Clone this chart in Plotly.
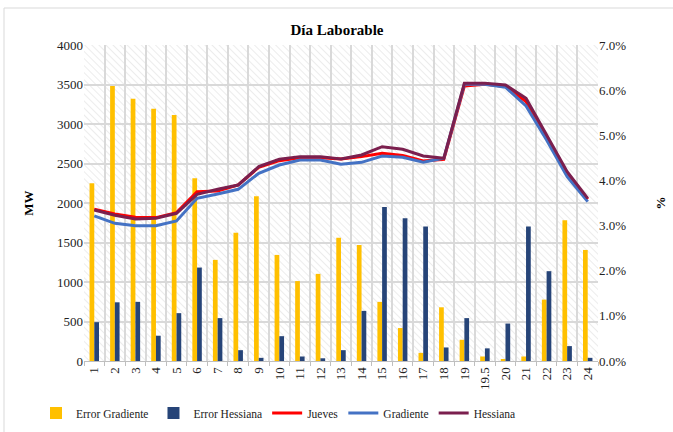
import base64
import plotly.graph_objects as go

hours = ["1", "2", "3", "4", "5", "6", "7", "8", "9", "10", "11", "12", "13",
         "14", "15", "16", "17", "18", "19", "19.5", "20", "21", "22", "23", "24"]

# Error bars (%), right axis
error_gradiente = [3.94, 6.09, 5.81, 5.59, 5.45, 4.05, 2.24, 2.84, 3.65, 2.35, 1.77, 1.93, 2.73,
                   2.57, 1.31, 0.73, 0.18, 1.19, 0.47, 0.10, 0.03, 0.10, 1.36, 3.12, 2.46]
error_hessiana = [0.86, 1.30, 1.31, 0.56, 1.06, 2.07, 0.95, 0.24, 0.07, 0.55, 0.10, 0.06, 0.24,
                  1.11, 3.41, 3.16, 2.98, 0.30, 0.95, 0.28, 0.83, 2.98, 1.99, 0.33, 0.07]

# Load curves (MW), left axis
jueves = [1920, 1861, 1819, 1815, 1878, 2144, 2152, 2228, 2452, 2536, 2574, 2574, 2557,
          2587, 2629, 2600, 2532, 2553, 3481, 3503, 3473, 3283, 2840, 2376, 2047]
gradiente = [1836, 1743, 1713, 1713, 1772, 2059, 2114, 2173, 2376, 2481, 2545, 2545, 2490,
             2515, 2595, 2578, 2515, 2566, 3503, 3503, 3465, 3228, 2798, 2334, 2017]
hessiana = [1912, 1844, 1798, 1806, 1870, 2110, 2173, 2228, 2460, 2553, 2587, 2587, 2557,
            2608, 2713, 2680, 2595, 2566, 3515, 3515, 3494, 3325, 2861, 2397, 2059]

FONT = "Liberation Serif"

fig = go.Figure()
fig.add_trace(go.Bar(x=hours, y=error_gradiente, name="Error Gradiente",
                     marker=dict(color="#FFC000", line_width=0), yaxis="y"))
fig.add_trace(go.Bar(x=hours, y=error_hessiana, name="Error Hessiana",
                     marker=dict(color="#264478", line_width=0), yaxis="y"))
fig.add_trace(go.Scatter(x=hours, y=jueves, name="Jueves", mode="lines",
                         line=dict(color="#FF0000", width=3), yaxis="y2"))
fig.add_trace(go.Scatter(x=hours, y=gradiente, name="Gradiente", mode="lines",
                         line=dict(color="#4472C4", width=3), yaxis="y2"))
fig.add_trace(go.Scatter(x=hours, y=hessiana, name="Hessiana", mode="lines",
                         line=dict(color="#7B1F4E", width=3), yaxis="y2"))

# hatched plot background
svg = ("<svg xmlns='http://www.w3.org/2000/svg' width='514' height='316'>"
       "<defs><pattern id='p' width='5' height='5' patternUnits='userSpaceOnUse' "
       "patternTransform='rotate(-45)'><rect width='5' height='5' fill='white'/>"
       "<line x1='0' y1='0' x2='0' y2='5' stroke='#e2e2e2' stroke-width='1.3'/></pattern></defs>"
       "<rect width='514' height='316' fill='url(#p)'/></svg>")
src = "data:image/svg+xml;base64," + base64.b64encode(svg.encode()).decode()

W, H = 673, 432
L, R, T, B = 84, 75, 45, 71
pw, ph = W - L - R, H - T - B

tf = dict(family=FONT, size=13, color="#222")

fig.update_layout(
    width=W, height=H,
    margin=dict(l=L, r=R, t=T, b=B, autoexpand=False),
    paper_bgcolor="white",
    plot_bgcolor="rgba(0,0,0,0)",
    font=dict(family=FONT, size=13, color="#222"),
    title=dict(text="<b>Día Laborable</b>", x=(337 - L) / pw, xref="paper", xanchor="center",
               y=1 - 30 / H, yanchor="middle", font=dict(family=FONT, size=15, color="#000")),
    barmode="group", bargap=0.54, bargroupgap=0,
    showlegend=True,
    legend=dict(orientation="h", x=(36 - L) / pw, xanchor="left", y=(T + ph - 413) / ph,
                yanchor="middle", font=dict(family=FONT, size=11.5, color="#222"),
                bgcolor="rgba(0,0,0,0)", itemwidth=30, tracegroupgap=0),
    xaxis=dict(type="category", tickangle=-90, showgrid=True, gridcolor="#d9d9d9",
               gridwidth=1.5, tickson="boundaries", ticks="outside", ticklen=4,
               tickcolor="#bfbfbf", showline=True, linecolor="#bfbfbf",
               tickfont=tf, range=[-0.5, len(hours) - 0.5], automargin=False),
    yaxis=dict(side="right", range=[0, 7], dtick=1, tickformat=".1f", ticksuffix="%",
               showgrid=False, zeroline=False, automargin=False,
               title=dict(text="<b>%</b>", font=dict(family=FONT, size=13, color="#000"), standoff=30),
               tickfont=tf),
    yaxis2=dict(side="left", overlaying="y", range=[0, 4000], dtick=500,
                showgrid=True, gridcolor="#d9d9d9", gridwidth=1.5, zeroline=False, automargin=False,
                title=dict(text="<b>MW</b>", font=dict(family=FONT, size=13, color="#000"), standoff=20),
                tickfont=tf),
    images=[dict(source=src, xref="paper", yref="paper", x=0, y=1, sizex=1, sizey=1,
                 xanchor="left", yanchor="top", sizing="stretch", layer="below")],
    shapes=[
        dict(type="line", xref="paper", yref="paper",
             x0=(4 - L) / pw, x1=(4 - L) / pw, y0=(T + ph - H - 5) / ph, y1=(T + ph - 8) / ph,
             line=dict(color="#d9d9d9", width=1)),
        dict(type="line", xref="paper", yref="paper",
             x0=(4 - L) / pw, x1=(W + 5 - L) / pw, y0=(T + ph - 8) / ph, y1=(T + ph - 8) / ph,
             line=dict(color="#d9d9d9", width=1)),
    ],
)

fig.write_html("out.html", config={"displayModeBar": False},
               post_script="document.body.style.margin='0';document.body.style.padding='0';")
